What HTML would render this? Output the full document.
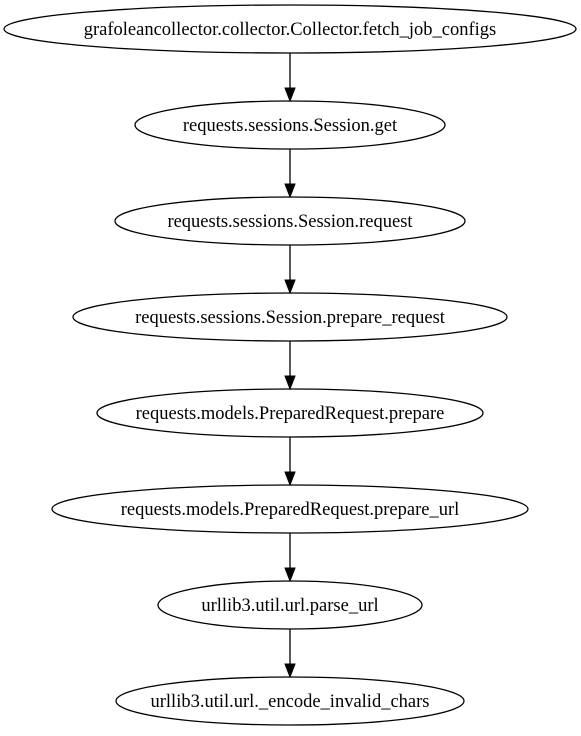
<!DOCTYPE html>
<html><head><style>html,body{margin:0;padding:0;background:#fff}</style></head>
<body>
<svg width="581" height="731" viewBox="0 0 581 731" xmlns="http://www.w3.org/2000/svg" font-family="Liberation Serif, serif" font-size="18.5" text-anchor="middle">
<g fill="none" stroke="#000" stroke-width="1.3">
<ellipse cx="290" cy="29" rx="286" ry="24"/>
<ellipse cx="290" cy="125" rx="155" ry="24"/>
<ellipse cx="290" cy="221" rx="175" ry="24"/>
<ellipse cx="290" cy="317" rx="217" ry="24"/>
<ellipse cx="290" cy="413" rx="193" ry="24"/>
<ellipse cx="290" cy="509" rx="238" ry="24"/>
<ellipse cx="290" cy="605" rx="132" ry="24"/>
<ellipse cx="290" cy="701" rx="174" ry="24"/>
<path d="M290 53V88M290 149V184M290 245V280M290 341V376M290 437V472M290 533V568M290 629V664"/>
</g>
<g fill="#000" stroke="#000">
<path d="M285 88L295 88L290 101Z"/>
<path d="M285 184L295 184L290 197Z"/>
<path d="M285 280L295 280L290 293Z"/>
<path d="M285 376L295 376L290 389Z"/>
<path d="M285 472L295 472L290 485Z"/>
<path d="M285 568L295 568L290 581Z"/>
<path d="M285 664L295 664L290 677Z"/>
</g>
<g fill="#000">
<text x="290" y="35">grafoleancollector.collector.Collector.fetch_job_configs</text>
<text x="290" y="131">requests.sessions.Session.get</text>
<text x="290" y="227">requests.sessions.Session.request</text>
<text x="290" y="323">requests.sessions.Session.prepare_request</text>
<text x="290" y="419">requests.models.PreparedRequest.prepare</text>
<text x="290" y="515">requests.models.PreparedRequest.prepare_url</text>
<text x="290" y="611">urllib3.util.url.parse_url</text>
<text x="290" y="707">urllib3.util.url._encode_invalid_chars</text>
</g>
</svg>
</body></html>
